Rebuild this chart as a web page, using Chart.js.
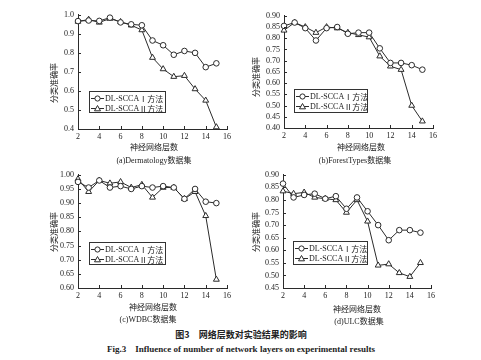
<!DOCTYPE html>
<html>
<head>
<meta charset="utf-8">
<script src="https://cdn.jsdelivr.net/npm/chart.js@4/dist/chart.umd.min.js"></script>
<style>
  body { margin: 0; background: #fff; }
  #page { position: relative; width: 481px; height: 360px; overflow: hidden; background: #fff;
          font-family: "Liberation Serif", "Noto Sans CJK SC", serif; color: #222; }
  canvas { position: absolute; }
  .lbl { position: absolute; white-space: nowrap; font-size: 8px; transform: translate(-50%, -50%); }
  .ylbl { position: absolute; white-space: nowrap; font-size: 8px;
          font-family: "Noto Sans CJK SC", sans-serif; transform: translate(-50%, -50%) rotate(-90deg); }
  .cjk { font-family: "Noto Sans CJK SC", sans-serif; }
  .legend { position: absolute; border: 1px solid #333; background: #fff; box-sizing: border-box;
            font-size: 8px; padding: 1px 1px; }
  .legend .row { display: flex; align-items: center; height: 10.5px; white-space: nowrap; }
  .legend svg { margin-right: 1px; flex-shrink: 0; }
  .cap1 { position: absolute; left: 241px; top: 334px; transform: translate(-50%, -50%);
          font-family: "Noto Sans CJK SC", sans-serif; font-weight: 700; font-size: 9px; white-space: pre; }
  .cap2 { position: absolute; left: 241px; top: 349px; transform: translate(-50%, -50%);
          font-family: "Liberation Serif", serif; font-weight: 700; font-size: 9px; white-space: pre; }
</style>
</head>
<body>
<div id="page">
  <div class="cap1">图3　网络层数对实验结果的影响</div>
  <div class="cap2">Fig.3    Influence of number of network layers on experimental results</div>
</div>
<script>
/* data */
const layers = [2, 3, 4, 5, 6, 7, 8, 9, 10, 11, 12, 13, 14, 15];
const xTicks = [2, 4, 6, 8, 10, 12, 14, 16];

const dermI  = [0.967, 0.970, 0.968, 0.985, 0.960, 0.950, 0.945, 0.865, 0.840, 0.790, 0.810, 0.800, 0.725, 0.745];
const dermII = [0.965, 0.975, 0.960, 0.980, 0.963, 0.945, 0.920, 0.775, 0.715, 0.675, 0.680, 0.610, 0.550, 0.410];

const forestI  = [0.855, 0.870, 0.845, 0.790, 0.845, 0.850, 0.820, 0.825, 0.825, 0.755, 0.690, 0.690, 0.680, 0.660];
const forestII = [0.835, 0.870, 0.850, 0.825, 0.850, 0.845, 0.825, 0.815, 0.805, 0.720, 0.675, 0.660, 0.500, 0.430];

const wdbcI  = [0.975, 0.955, 0.980, 0.955, 0.960, 0.950, 0.960, 0.955, 0.960, 0.955, 0.915, 0.950, 0.905, 0.900];
const wdbcII = [0.985, 0.940, 0.980, 0.970, 0.975, 0.955, 0.965, 0.920, 0.955, 0.955, 0.915, 0.940, 0.855, 0.630];

const ulcI  = [0.865, 0.810, 0.820, 0.825, 0.805, 0.815, 0.765, 0.810, 0.755, 0.700, 0.640, 0.680, 0.680, 0.670];
const ulcII = [0.835, 0.825, 0.830, 0.810, 0.805, 0.800, 0.750, 0.800, 0.715, 0.540, 0.545, 0.510, 0.495, 0.550];

const seriesNames = ['DL-SCCAⅠ方法', 'DL-SCCAⅡ方法'];
const xTitle = '神经网络层数';
const yTitle = '分类准确率';

const INK = '#2b2b2b';

/* panel layout */
const panels = [
  { box: [78, 14, 227, 129], y: [0.4, 1.0, 0.1, 1], a: dermI, b: dermII, sub: '(a)Dermatology',
    xt: [154, 146], st: [154, 159], yt: [53, 83], lg: [89, 91, 77, 22] },
  { box: [284, 15, 433, 128], y: [0.40, 0.90, 0.05, 2], a: forestI, b: forestII, sub: '(b)ForestTypes',
    xt: [361, 146], st: [355, 159], yt: [255, 77], lg: [294, 89, 74, 24] },
  { box: [78, 174, 227, 288], y: [0.60, 1.00, 0.05, 2], a: wdbcI, b: wdbcII, sub: '(c)WDBC',
    xt: [153, 306], st: [148, 318], yt: [53, 232], lg: [89, 242, 77, 23] },
  { box: [283, 174, 431, 288], y: [0.45, 0.90, 0.05, 2], a: ulcI, b: ulcII, sub: '(d)ULC',
    xt: [357, 308], st: [359, 320], yt: [255, 232], lg: [293, 241, 75, 24] },
];

/* inward tick marks */
const inwardTicks = {
  id: 'inwardTicks',
  afterDraw(chart) {
    const { ctx, chartArea, scales } = chart;
    ctx.save();
    ctx.strokeStyle = INK;
    ctx.lineWidth = 1;
    scales.x.ticks.forEach(t => {
      const px = Math.round(scales.x.getPixelForValue(t.value)) + 0.5;
      ctx.beginPath();
      ctx.moveTo(px, chartArea.bottom);
      ctx.lineTo(px, chartArea.bottom - 3);
      ctx.stroke();
    });
    scales.y.ticks.forEach(t => {
      const py = Math.round(scales.y.getPixelForValue(t.value)) + 0.5;
      ctx.beginPath();
      ctx.moveTo(chartArea.left, py);
      ctx.lineTo(chartArea.left + 3, py);
      ctx.stroke();
    });
    ctx.restore();
  }
};

function marker(kind) {
  const shape = kind === 'circle'
    ? '<circle cx="6.5" cy="4.5" r="2.6" fill="#fff" stroke="' + INK + '" stroke-width="1"/>'
    : '<polygon points="6.5,1.5 9.5,6.8 3.5,6.8" fill="#fff" stroke="' + INK + '" stroke-width="1"/>';
  return '<svg width="13" height="9" viewBox="0 0 13 9"><line x1="0" y1="4.5" x2="13" y2="4.5" stroke="' + INK + '" stroke-width="1"/>' + shape + '</svg>';
}

function legendText(name) {
  // latin part in serif, numeral and CJK part in the CJK font
  const m = name.match(/^(DL-SCCA)(.*)$/);
  return '<span>' + m[1] + '</span><span class="cjk">' + m[2] + '</span>';
}

function addText(cls, html, pos) {
  const d = document.createElement('div');
  d.className = cls;
  d.innerHTML = html;
  d.style.left = pos[0] + 'px';
  d.style.top = pos[1] + 'px';
  document.getElementById('page').appendChild(d);
}

function makePanel(p) {
  const page = document.getElementById('page');
  const [L, T, R, B] = p.box;
  const padL = 10, yW = 30, padT = 8, padR = 8, padB = 4, xH = 14;
  const canvas = document.createElement('canvas');
  const w = (R - L) + padL + yW + padR;
  const h = (B - T) + padT + xH + padB;
  canvas.style.left = (L - padL - yW) + 'px';
  canvas.style.top = (T - padT) + 'px';
  canvas.style.width = w + 'px';
  canvas.style.height = h + 'px';
  canvas.width = w;
  canvas.height = h;
  page.appendChild(canvas);

  const ds = (vals, style, r) => ({
    data: layers.map((x, i) => ({ x, y: vals[i] })),
    borderColor: INK,
    borderWidth: 1,
    backgroundColor: '#fff',
    pointStyle: style,
    pointRadius: r,
    pointBorderWidth: 1,
    pointBorderColor: INK,
    pointBackgroundColor: '#fff',
    tension: 0,
    clip: false,
  });

  new Chart(canvas, {
    type: 'line',
    data: { datasets: [ds(p.a, 'circle', 2.8), ds(p.b, 'triangle', 3.4)] },
    options: {
      responsive: false,
      animation: false,
      devicePixelRatio: 1,
      layout: { padding: { left: padL, right: padR, top: padT, bottom: padB } },
      plugins: { legend: { display: false }, tooltip: { enabled: false } },
      scales: {
        x: {
          type: 'linear', min: 2, max: 16,
          afterBuildTicks: s => { s.ticks = xTicks.map(v => ({ value: v })); },
          afterFit: s => { s.height = xH; },
          grid: { display: true, drawOnChartArea: false, drawTicks: false },
          border: { display: true, color: INK, width: 1 },
          ticks: { color: '#222', padding: 3, maxRotation: 0, autoSkip: false,
                   font: { family: 'Liberation Serif', size: 8 } },
        },
        y: {
          min: p.y[0], max: p.y[1],
          ticks: { stepSize: p.y[2], color: '#222', padding: 4, autoSkip: false,
                   font: { family: 'Liberation Serif', size: 8 },
                   callback: v => v.toFixed(p.y[3]) },
          afterFit: s => { s.width = yW; },
          grid: { display: true, drawOnChartArea: false, drawTicks: false },
          border: { display: true, color: INK, width: 1 },
        },
      },
    },
    plugins: [inwardTicks],
  });

  addText('lbl cjk', xTitle, p.xt);
  addText('lbl', p.sub + '<span class="cjk">数据集</span>', p.st);
  addText('ylbl', yTitle, p.yt);

  const lg = document.createElement('div');
  lg.className = 'legend';
  lg.style.left = p.lg[0] + 'px';
  lg.style.top = p.lg[1] + 'px';
  lg.style.width = p.lg[2] + 'px';
  lg.style.height = p.lg[3] + 'px';
  lg.innerHTML =
    '<div class="row">' + marker('circle') + legendText(seriesNames[0]) + '</div>' +
    '<div class="row">' + marker('triangle') + legendText(seriesNames[1]) + '</div>';
  page.appendChild(lg);
}

panels.forEach(makePanel);
</script>
</body>
</html>
